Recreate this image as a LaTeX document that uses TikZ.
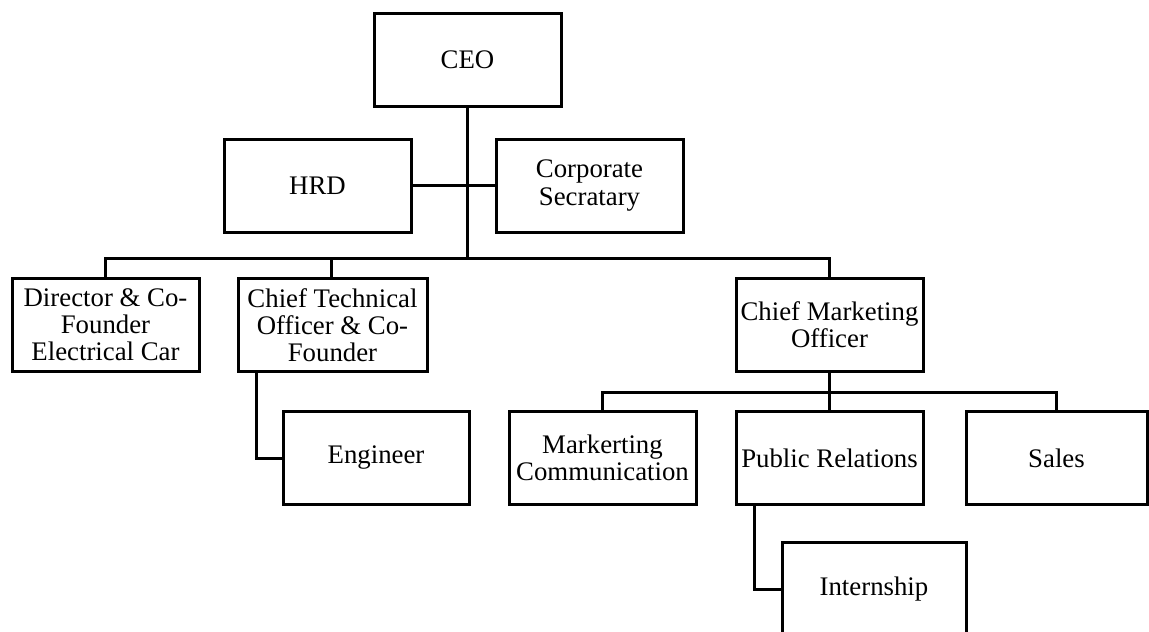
\documentclass[tikz,border=0pt]{standalone}
\usepackage{fontspec}
\setmainfont{Liberation Serif}
\begin{document}
\begin{tikzpicture}[x=1pt,y=-1pt,
  box/.style={draw=black, line width=3pt, rectangle, align=center, inner sep=0pt,
    minimum width=187pt, minimum height=93pt, font=\fontsize{26.8}{27.2}\selectfont},
  conn/.style={draw=black, line width=3pt}]
\useasboundingbox (0,0) rectangle (1149,632);
\begin{scope}
\clip (0,0) rectangle (1149,632);
\node[box] (ceo) at (467.5,60) {CEO};
\node[box] (hrd) at (317.5,185.5) {HRD};
\node[box] (corp) at (589.5,185.5) {Corporate\\Secratary};
\node[box] (dir) at (105.5,325) {Director \& Co-\\Founder\\Electrical Car};
\node[box, minimum width=189pt] (cto) at (332.5,325) {Chief Technical\\Officer \& Co-\\Founder};
\node[box] (cmo) at (829.5,325) {Chief Marketing\\Officer};
\node[box, minimum width=186pt] (eng) at (376,458) {Engineer};
\node[box] (mc) at (602.5,458) {Markerting\\Communication};
\node[box] (pr) at (829.5,458) {Public Relations};
\node[box, minimum width=181pt] (sales) at (1056.5,458) {Sales};
\node[box, minimum width=184pt] (int) at (874,589) {Internship};

\coordinate (b1) at (467.5,258);
\coordinate (b2) at (829.5,392);
\draw[conn] (ceo.south) -- (b1);
\draw[conn] (hrd.east) -- (corp.west);
\draw[conn] (dir.north) |- (cmo.north |- b1) -- (cmo.north);
\draw[conn] ([xshift=-1.5pt]cto.north) -- ([xshift=-1.5pt]cto.north |- b1);
\draw[conn] ([xshift=-76.5pt]cto.south) |- (eng.west);
\draw[conn] (cmo.south) -- (b2);
\draw[conn] (mc.north) |- (sales.north |- b2) -- (sales.north);
\draw[conn] (pr.north) -- (b2);
\draw[conn] ([xshift=-75.5pt]pr.south) |- (int.west);
\end{scope}
\end{tikzpicture}
\end{document}
